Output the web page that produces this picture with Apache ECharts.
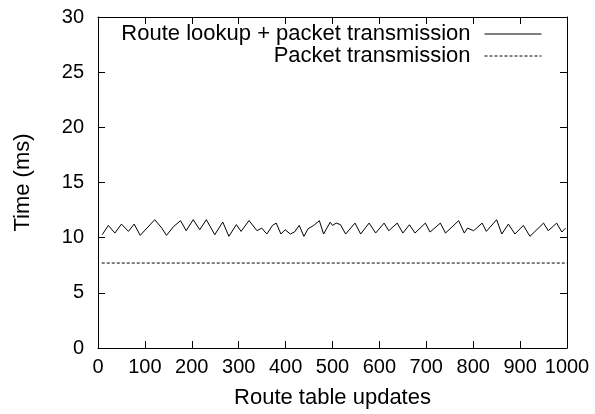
<!DOCTYPE html>
<html>
<head>
<meta charset="utf-8">
<script src="https://cdn.jsdelivr.net/npm/echarts@6/dist/echarts.min.js"></script>
<style>
  html, body { margin: 0; padding: 0; background: #fff; }
  #chart { width: 595px; height: 414px; }
</style>
</head>
<body>
<div id="chart"></div>
<script>
// series names
let seriesNames = ['Route lookup + packet transmission', 'Packet transmission']
// route lookup + transmission, [updates, ms]
let lookupData = [
  [9, 10.27], [22, 11.11], [36, 10.42], [50, 11.23], [65, 10.57], [77, 11.23],
  [90, 10.21], [121, 11.63], [136, 10.87], [146, 10.21], [161, 11.0], [176, 11.54],
  [188, 10.63], [203, 11.63], [217, 10.72], [231, 11.63], [249, 10.27], [266, 11.42],
  [279, 10.12], [295, 11.18], [305, 10.57], [322, 11.55], [339, 10.63], [349, 10.87],
  [360, 10.33], [372, 11.11], [380, 11.32], [390, 10.33], [399, 10.72], [410, 10.33],
  [419, 10.51], [429, 11.11], [439, 10.12], [448, 10.81], [460, 11.11], [472, 11.54],
  [481, 10.33], [495, 11.4], [500, 11.11], [508, 11.32], [517, 11.18], [528, 10.33],
  [548, 11.32], [560, 10.33], [578, 11.32], [592, 10.42], [610, 11.32], [620, 10.63],
  [638, 11.32], [650, 10.42], [664, 11.17], [676, 10.42], [698, 11.32], [708, 10.51],
  [730, 11.32], [741, 10.42], [769, 11.54], [781, 10.42], [788, 10.87], [801, 10.63],
  [819, 11.32], [828, 10.57], [850, 11.63], [861, 10.33], [875, 11.23], [889, 10.33],
  [907, 11.11], [921, 10.12], [950, 11.32], [960, 10.63], [978, 11.32], [989, 10.51],
  [997, 10.87]
]
// packet transmission only
let transmitData = [[8, 7.7], [1000, 7.7]]

let chart = echarts.init(document.getElementById('chart'))
let font = 'Liberation Sans, Arial, sans-serif'

function axisBase (min, max, interval) {
  return {
    type: 'value',
    min: min,
    max: max,
    interval: interval,
    axisLine: { show: true, onZero: false, lineStyle: { color: '#000', width: 1 } },
    axisTick: { show: true, inside: true, length: 7, lineStyle: { color: '#000' } },
    splitLine: { show: false }
  }
}

function legendRow (name, top) {
  return {
    data: [name],
    right: 53, top: top,
    align: 'right',
    padding: 0,
    itemWidth: 57, itemHeight: 14,
    itemStyle: { opacity: 0 },
    lineStyle: { width: 1 },
    textStyle: { fontFamily: font, fontSize: 22, color: '#000', padding: [0, 9, 0, 0] }
  }
}

let option = {
  animation: false,
  backgroundColor: '#fff',
  grid: { left: 98, right: 28, top: 17, bottom: 65 },
  legend: [legendRow(seriesNames[0], 23), legendRow(seriesNames[1], 45)],
  xAxis: [
    Object.assign(axisBase(0, 1000, 100), {
      position: 'bottom',
      name: 'Route table updates',
      nameLocation: 'middle',
      nameGap: 39,
      nameTextStyle: { fontFamily: font, fontSize: 22, color: '#000' },
      axisLabel: {
        fontFamily: font, fontSize: 20, color: '#000', margin: 9,
        formatter: function (v) { return String(v) }
      }
    }),
    Object.assign(axisBase(0, 1000, 100), {
      position: 'top',
      axisLabel: { show: false }
    })
  ],
  yAxis: [
    Object.assign(axisBase(0, 30, 5), {
      position: 'left',
      name: 'Time (ms)',
      nameLocation: 'middle',
      nameGap: 64,
      nameTextStyle: { fontFamily: font, fontSize: 22, color: '#000' },
      axisLabel: { fontFamily: font, fontSize: 20, color: '#000', margin: 14 }
    }),
    Object.assign(axisBase(0, 30, 5), {
      position: 'right',
      axisLabel: { show: false }
    })
  ],
  series: [
    {
      name: seriesNames[0],
      type: 'line',
      symbol: 'none',
      data: lookupData,
      lineStyle: { color: '#000', width: 1 },
      itemStyle: { color: '#000' }
    },
    {
      name: seriesNames[1],
      type: 'line',
      symbol: 'none',
      data: transmitData,
      lineStyle: { color: '#000', width: 1, type: [3, 2] },
      itemStyle: { color: '#000' }
    }
  ]
}
chart.setOption(option)
</script>
</body>
</html>
